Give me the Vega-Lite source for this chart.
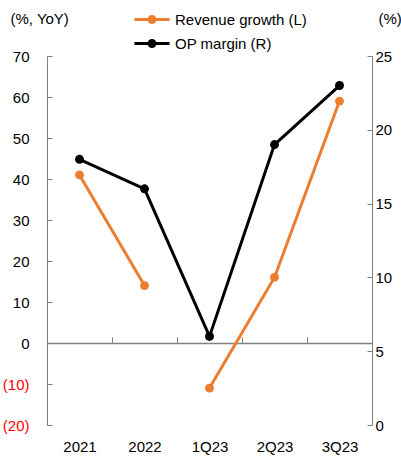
{
  "$schema": "https://vega.github.io/schema/vega-lite/v6.json",
  "width": 325,
  "height": 369,
  "autosize": {"type": "none"},
  "padding": {"left": 47, "top": 56, "right": 29, "bottom": 37},
  "background": "white",
  "config": {
    "view": {"stroke": null},
    "font": "Liberation Sans",
    "axis": {"labelFont": "Liberation Sans", "titleFont": "Liberation Sans", "labelColor": "#000000", "titleColor": "#000000", "domainColor": "#808080", "tickColor": "#808080", "grid": false, "titleFontWeight": "normal"},
    "legend": {"labelFont": "Liberation Sans"}
  },
  "data": {
    "values": [
      {"period": "2021", "series": "Revenue growth (L)", "value": 41, "segment": 1},
      {"period": "2022", "series": "Revenue growth (L)", "value": 14, "segment": 1},
      {"period": "1Q23", "series": "Revenue growth (L)", "value": -11, "segment": 2},
      {"period": "2Q23", "series": "Revenue growth (L)", "value": 16, "segment": 2},
      {"period": "3Q23", "series": "Revenue growth (L)", "value": 59, "segment": 2},
      {"period": "2021", "series": "OP margin (R)", "value": 18, "segment": 1},
      {"period": "2022", "series": "OP margin (R)", "value": 16, "segment": 1},
      {"period": "1Q23", "series": "OP margin (R)", "value": 6, "segment": 1},
      {"period": "2Q23", "series": "OP margin (R)", "value": 19, "segment": 1},
      {"period": "3Q23", "series": "OP margin (R)", "value": 23, "segment": 1}
    ]
  },
  "encoding": {
    "x": {
      "field": "period",
      "type": "ordinal",
      "sort": ["2021", "2022", "1Q23", "2Q23", "3Q23"],
      "scale": {"paddingInner": 0, "paddingOuter": 0},
      "axis": {"title": null, "orient": "bottom", "offset": -82, "tickSize": -6, "tickBand": "extent", "labelPadding": 102, "labelAngle": 0, "labelFontSize": 15, "labelBaseline": "top", "domainWidth": 1.5}
    },
    "color": {
      "field": "series",
      "type": "nominal",
      "scale": {"domain": ["Revenue growth (L)", "OP margin (R)"], "range": ["#ED7D31", "#000000"]},
      "legend": {
        "title": null,
        "orient": "none",
        "legendX": 90,
        "legendY": -51.5,
        "direction": "vertical",
        "symbolType": "M-1.3,0H1.3M-0.22,0A0.22,0.22 0 1,0 0.22,0A0.22,0.22 0 1,0 -0.22,0",
        "symbolSize": 729,
        "symbolStrokeWidth": 3,
        "labelFontSize": 15,
        "labelColor": "#000000",
        "rowPadding": 0,
        "labelOffset": 8
      }
    }
  },
  "layer": [
    {
      "transform": [{"filter": "datum.series === 'Revenue growth (L)'"}],
      "mark": {"type": "line", "strokeWidth": 3, "point": {"filled": true, "size": 80}},
      "encoding": {
        "detail": {"field": "segment"},
        "y": {
          "field": "value",
          "type": "quantitative",
          "scale": {"domain": [-20, 70], "nice": false, "zero": false},
          "axis": {
            "orient": "left",
            "values": [-20, -10, 0, 10, 20, 30, 40, 50, 60, 70],
            "tickSize": -5,
            "labelPadding": 23,
            "labelFontSize": 15,
            "labelExpr": "datum.value < 0 ? '(' + abs(datum.value) + ')' : datum.label",
            "labelColor": {"condition": {"test": "datum.value < 0", "value": "#FF0000"}, "value": "#000000"},
            "title": "(%, YoY)",
            "titleAngle": 0,
            "titleAlign": "left",
            "titleBaseline": "middle",
            "titleX": -37,
            "titleY": -38,
            "titleFontSize": 15
          }
        }
      }
    },
    {
      "transform": [{"filter": "datum.series === 'OP margin (R)'"}],
      "mark": {"type": "line", "strokeWidth": 3, "point": {"filled": true, "size": 80}},
      "encoding": {
        "y": {
          "field": "value",
          "type": "quantitative",
          "scale": {"domain": [0, 25], "nice": false},
          "axis": {
            "orient": "right",
            "values": [0, 5, 10, 15, 20, 25],
            "tickSize": -5,
            "labelPadding": 8,
            "labelFontSize": 15,
            "title": "(%)",
            "titleAngle": 0,
            "titleAlign": "left",
            "titleBaseline": "middle",
            "titleX": 6,
            "titleY": -38,
            "titleFontSize": 15
          }
        }
      }
    }
  ],
  "resolve": {"scale": {"y": "independent"}}
}
